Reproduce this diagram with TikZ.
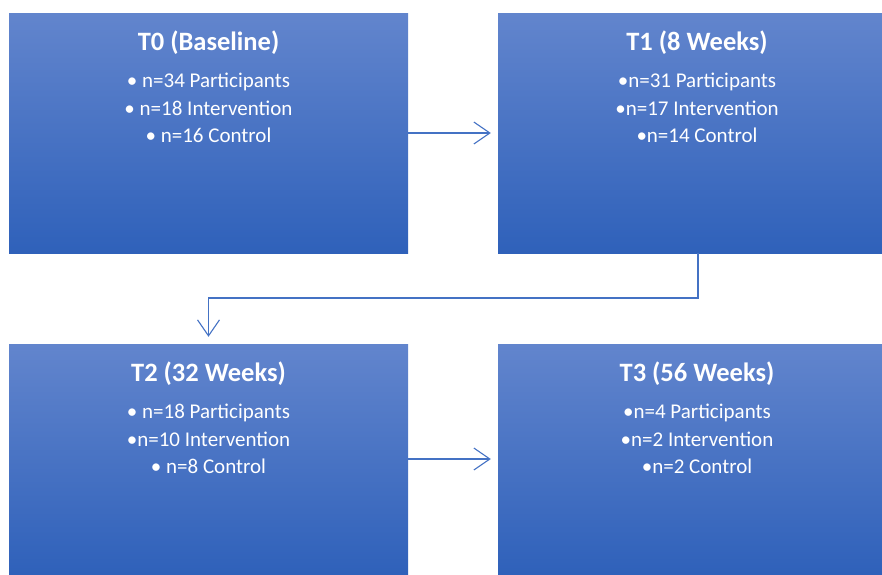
\documentclass[tikz,border=0pt]{standalone}
\usepackage{fontspec}
\setmainfont{Carlito}
\usetikzlibrary{arrows.meta,positioning,shadings}

\definecolor{boxtop}{RGB}{98,133,205}
\definecolor{boxbottom}{RGB}{47,97,186}
\definecolor{flowline}{RGB}{68,114,196}

\tikzset{
  stagebox/.style={rectangle, top color=boxtop, bottom color=boxbottom, draw=none, inner sep=0pt},
  heading/.style={text=white, font=\fontsize{26.5}{30}\selectfont\bfseries, inner sep=0pt},
  items/.style={text=white, font=\fontsize{21}{27.5}\selectfont, align=center, inner sep=0pt},
  flow/.style={draw=flowline, line width=1.1pt, -{Straight Barb[length=16pt,width=22pt,line width=1.1pt]}, shorten >=7pt}
}

\begin{document}
\begin{tikzpicture}[x=1pt, y=-1pt]
  \useasboundingbox (0,0) rectangle (882,574);

  % the four time points
  \node[stagebox, minimum width=399pt, minimum height=240pt] (t0) at (208.5,133) {};
  \node[stagebox, minimum width=384pt, minimum height=240pt] (t1) at (690,133) {};
  \node[stagebox, minimum width=399pt, minimum height=230pt] (t2) at (208.5,459) {};
  \node[stagebox, minimum width=384pt, minimum height=230pt] (t3) at (690,459) {};

  \node[heading] (t0h) at (208.5,43) {T0 (Baseline)};
  \node[heading] (t1h) at (697,43) {T1 (8 Weeks)};
  \node[heading] (t2h) at (208.5,374) {T2 (32 Weeks)};
  \node[heading] (t3h) at (697,374) {T3 (56 Weeks)};

  \node[items] (t0l) at (208.5,108) {\textbullet\ n=34 Participants\\ \textbullet\ n=18 Intervention\\ \textbullet\ n=16 Control};
  \node[items] (t1l) at (697,108) {\textbullet n=31 Participants\\ \textbullet n=17 Intervention\\ \textbullet n=14 Control};
  \node[items] (t2l) at (208.5,439) {\textbullet\ n=18 Participants\\ \textbullet n=10 Intervention\\ \textbullet\ n=8 Control};
  \node[items] (t3l) at (697,439) {\textbullet n=4 Participants\\ \textbullet n=2 Intervention\\ \textbullet n=2 Control};

  % arrows
  \coordinate (mid) at (450,298);
  \draw[flow] (t0.east) -- (t1.west);
  \draw[flow] ([xshift=8pt]t1.south) |- (mid) -| (t2.north);
  \draw[flow] (t2.east) -- (t3.west);
\end{tikzpicture}
\end{document}
